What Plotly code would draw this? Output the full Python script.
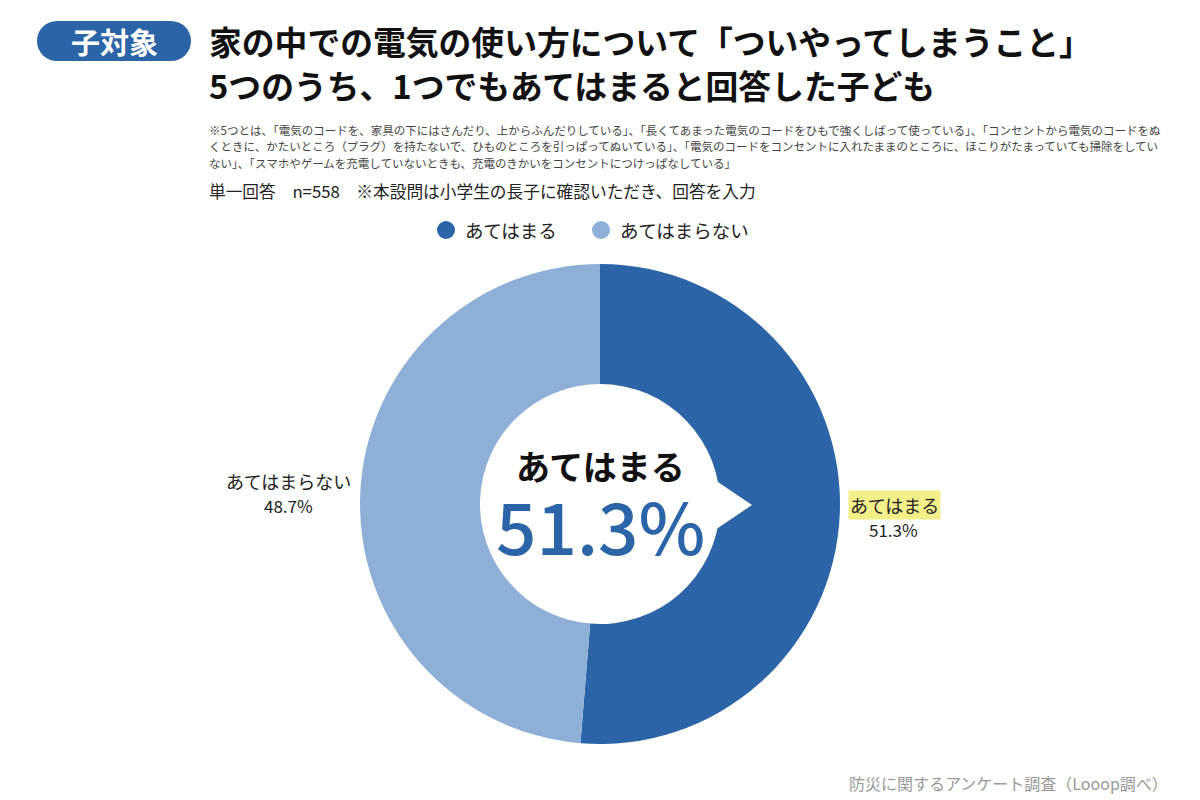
import plotly.graph_objects as go

categories = ["あてはまる", "あてはまらない"]
values = [51.3, 48.7]
colors = ["#2B64A7", "#8FB0D6"]

title_lines = ["家の中での電気の使い方について「ついやってしまうこと」",
               "5つのうち、1つでもあてはまると回答した子ども"]
badge_text = "子対象"
note_lines = [
    "※5つとは、「電気のコードを、家具の下にはさんだり、上からふんだりしている」、「長くてあまった電気のコードをひもで強くしばって使っている」、「コンセントから電気のコードをぬ",
    "くときに、かたいところ（プラグ）を持たないで、ひものところを引っぱってぬいている」、「電気のコードをコンセントに入れたままのところに、ほこりがたまっていても掃除をしてい",
    "ない」、「スマホやゲームを充電していないときも、充電のきかいをコンセントにつけっぱなしている」",
]
subtitle = "単一回答　n=558　※本設問は小学生の長子に確認いただき、回答を入力"
source = "防災に関するアンケート調査（Looop調べ）"

FONT = "Noto Sans CJK JP"
W, H = 1200, 800
OFF = 8  # page body margin


def px(x):
    return (x - OFF) / W


def py(y):
    return 1 - (y - OFF) / H


fig = go.Figure()

fig.add_trace(go.Pie(
    labels=categories, values=values,
    marker=dict(colors=colors, line=dict(width=0)),
    hole=0.5, sort=False, direction="clockwise", rotation=0,
    textinfo="none", hoverinfo="label+percent", showlegend=False,
    domain=dict(x=[px(360), px(840)], y=[py(744), py(264)]),
))

shapes = []
# speech-bubble pointer from the hole
shapes.append(dict(type="path",
                   path=f"M {px(712)} {py(478)} L {px(752)} {py(505)} L {px(712)} {py(532)} Z",
                   xref="paper", yref="paper", fillcolor="white", line=dict(width=0),
                   layer="above"))
# badge (rounded)
for shp in [dict(type="rect", x0=px(57), x1=px(171), y0=py(61), y1=py(21)),
            dict(type="circle", x0=px(37), x1=px(77), y0=py(61), y1=py(21)),
            dict(type="circle", x0=px(151), x1=px(191), y0=py(61), y1=py(21))]:
    shp.update(xref="paper", yref="paper", fillcolor="#2B64A7", line=dict(width=0),
               layer="below")
    shapes.append(shp)

# legend markers
legend_cx = [446, 601]
for cx, col in zip(legend_cx, colors):
    shapes.append(dict(type="circle", xref="paper", yref="paper",
                       x0=px(cx - 9), x1=px(cx + 9), y0=py(239), y1=py(221),
                       fillcolor=col, line=dict(width=0)))

ann = []


def add(x, y, text, size, color="#222222", xanchor="center", **kw):
    ann.append(dict(x=px(x), y=py(y), text=text, showarrow=False,
                    xref="paper", yref="paper",
                    font=dict(family=FONT, size=size, color=color, **kw.pop("fkw", {})),
                    xanchor=xanchor, yanchor="middle", align=xanchor, **kw))


add(114, 41, f"<b>{badge_text}</b>", 29, color="white")
add(207, 40, f"<b>{title_lines[0]}</b>", 32.8, color="#111111", xanchor="left")
add(207, 85, f"<b>{title_lines[1]}</b>", 32.8, color="#111111", xanchor="left")
for i, line in enumerate(note_lines):
    add(207, 130 + i * 16.5, line, 11.5, color="#444444", xanchor="left")
add(207, 191, subtitle, 16.7, xanchor="left")

# legend texts
for cx, c in zip(legend_cx, categories):
    add(cx + 17, 230, c, 18.5, xanchor="left")

# center text
add(600, 465, f"<b>{categories[0]}</b>", 34, color="#111111")
add(600, 524, f"{values[0]}%", 71, color="#2B64A7", fkw=dict(weight=500))

# outside labels
add(894, 505, categories[0], 18, bgcolor="#F3F08A", borderpad=1)
add(893, 529, f"{values[0]}%", 17)
add(288, 481, categories[1], 18)
add(288, 505, f"{values[1]}%", 17)

add(1170, 783, source, 16, color="#999999", xanchor="right")

fig.update_layout(
    width=W, height=H,
    margin=dict(l=0, r=0, t=0, b=0),
    paper_bgcolor="white", plot_bgcolor="white",
    annotations=ann, shapes=shapes,
    showlegend=False,
    font=dict(family=FONT),
)

fig.write_html("out.html")
